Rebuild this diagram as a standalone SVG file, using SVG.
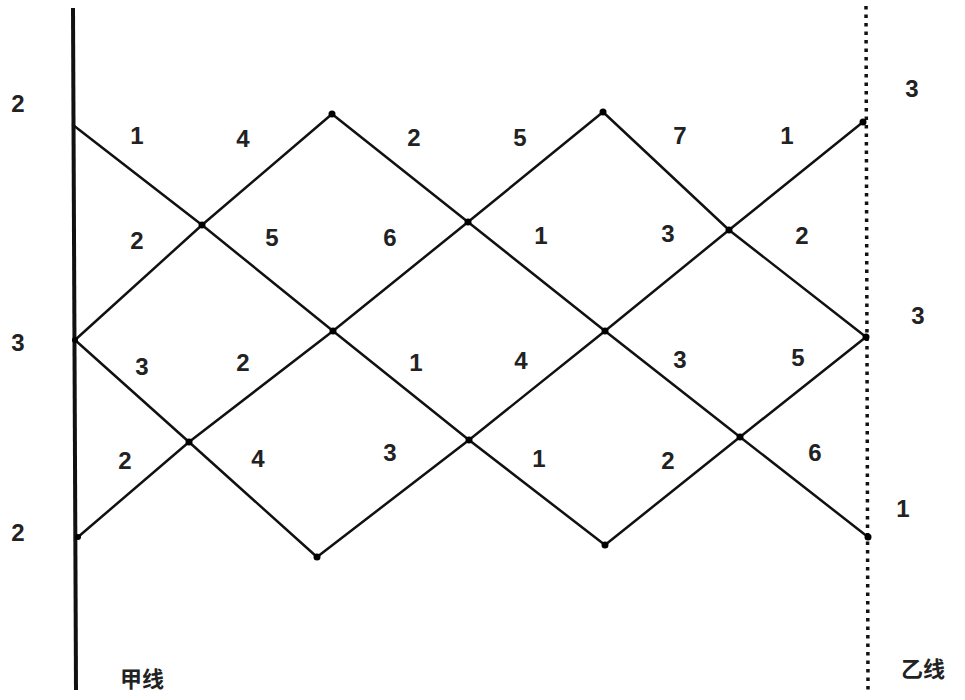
<svg xmlns="http://www.w3.org/2000/svg" width="965" height="700" viewBox="0 0 965 700">
<style>
.ln{stroke:#111;stroke-width:2.5;fill:none;stroke-linecap:round}
.dot{fill:#000}
.t{font-family:"Liberation Sans",Arial,sans-serif;font-size:24px;font-weight:bold;fill:#222;text-anchor:middle;dominant-baseline:central}
.c{font-family:"Noto Sans CJK SC",sans-serif;font-size:22px;font-weight:bold;fill:#222;text-anchor:middle;dominant-baseline:central}
</style>
<rect width="965" height="700" fill="#fff"/>
<g id="rails">
<line x1="73" y1="8" x2="76" y2="690" stroke="#111" stroke-width="4"/>
<line x1="866" y1="6" x2="868" y2="690" stroke="#111" stroke-width="3.5" stroke-dasharray="3.5 5"/>
</g>
<g id="connectors">
<polyline class="ln" points="73,125 202,225 333,331 469,440 605,545"/>
<polyline class="ln" points="332,114 468,222 605,331 740,437 868,537"/>
<polyline class="ln" points="603,112 729,230 866,337"/>
<polyline class="ln" points="75,340 189,442 317,557"/>
<polyline class="ln" points="78,537 189,442 333,331 468,222 603,112"/>
<polyline class="ln" points="317,557 469,440 605,331 729,230 863,122"/>
<polyline class="ln" points="605,545 740,437 866,337"/>
<polyline class="ln" points="75,340 202,225 332,114"/>
</g>
<g id="n1"><circle class="dot" cx="332" cy="114" r="3.5"/></g>
<g id="n2"><circle class="dot" cx="603" cy="112" r="3.5"/></g>
<g id="n3"><circle class="dot" cx="863" cy="122" r="3.5"/></g>
<g id="n4"><circle class="dot" cx="202" cy="225" r="3.5"/></g>
<g id="n5"><circle class="dot" cx="468" cy="222" r="3.5"/></g>
<g id="n6"><circle class="dot" cx="729" cy="230" r="3.5"/></g>
<g id="n7"><circle class="dot" cx="333" cy="331" r="3.5"/></g>
<g id="n8"><circle class="dot" cx="605" cy="331" r="3.5"/></g>
<g id="n9"><circle class="dot" cx="866" cy="337" r="3.5"/></g>
<g id="n10"><circle class="dot" cx="189" cy="442" r="3.5"/></g>
<g id="n11"><circle class="dot" cx="469" cy="440" r="3.5"/></g>
<g id="n12"><circle class="dot" cx="740" cy="437" r="3.5"/></g>
<g id="n13"><circle class="dot" cx="317" cy="557" r="3.5"/></g>
<g id="n14"><circle class="dot" cx="605" cy="545" r="3.5"/></g>
<g id="n15"><circle class="dot" cx="868" cy="537" r="3.5"/></g>
<g id="n16"><circle class="dot" cx="75" cy="340" r="3"/></g>
<g id="n17"><circle class="dot" cx="78" cy="537" r="3"/></g>
<g id="labels">
<text class="t" x="18" y="103">2</text>
<text class="t" x="18" y="342">3</text>
<text class="t" x="18" y="532">2</text>
<text class="t" x="912" y="88">3</text>
<text class="t" x="918" y="315">3</text>
<text class="t" x="903" y="508">1</text>
<text class="t" x="137" y="135">1</text>
<text class="t" x="243" y="138">4</text>
<text class="t" x="414" y="137">2</text>
<text class="t" x="520" y="137">5</text>
<text class="t" x="680" y="135">7</text>
<text class="t" x="787" y="135">1</text>
<text class="t" x="137" y="240">2</text>
<text class="t" x="272" y="237">5</text>
<text class="t" x="390" y="237">6</text>
<text class="t" x="541" y="235">1</text>
<text class="t" x="668" y="233">3</text>
<text class="t" x="802" y="235">2</text>
<text class="t" x="142" y="366">3</text>
<text class="t" x="243" y="362">2</text>
<text class="t" x="416" y="362">1</text>
<text class="t" x="521" y="360">4</text>
<text class="t" x="680" y="359">3</text>
<text class="t" x="798" y="357">5</text>
<text class="t" x="125" y="460">2</text>
<text class="t" x="258" y="458">4</text>
<text class="t" x="390" y="452">3</text>
<text class="t" x="539" y="458">1</text>
<text class="t" x="668" y="460">2</text>
<text class="t" x="815" y="452">6</text>
<text class="c" x="142" y="677">甲线</text>
<text class="c" x="923" y="667">乙线</text>
</g>
</svg>
